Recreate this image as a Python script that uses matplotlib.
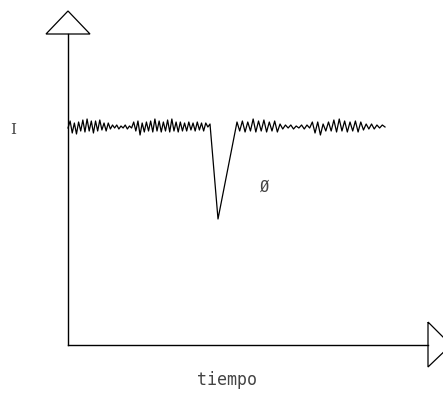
import numpy as np
import matplotlib.pyplot as plt
from matplotlib.patches import Polygon

# signal, in picture units (x to the right, level upward from baseline)
baseline = 128
noise_a = [0, 7, -5, 5, -6, 6, -3, 8, -4, 9, -3, 7, -5, 7, -3, 8, -2, 5, -3, 5,
           -1, 3, 0, 3, -1, 2, 0, 3, -1, 2, 0, 6, -3, 7, -7, 5, -4, 6, -3, 7,
           -4, 9, -3, 7, -4, 6, -3, 8, -4, 9, -3, 6, -4, 6, -3, 5, -3, 6, -2, 5,
           -3, 6, -2, 5, -3, 5, 1, 4]
noise_b = [6, -3, 7, -4, 6, -3, 9, -4, 7, -3, 8, -4, 6, -3, 7, -4, 4, -1, 3, 0,
           3, -1, 2, 0, 3, -1, 3, 0, 6, -5, 6, -7, 4, -3, 6, -3, 8, -4, 9, -3,
           7, -4, 6, -3, 7, -4, 6, -2, 4, -1, 4, -1, 3, 0, 3, 1]
x_a_start, x_a_end = 68, 210
x_b_start, x_b_end = 237, 385
dip_x, dip_y = 218, 219

# axes geometry
origin = (68, 345)
y_top = 34
x_right = 428


def main():
    fig = plt.figure(figsize=(4.43, 3.93), dpi=100)
    ax = fig.add_axes([0, 0, 1, 1])
    ax.set_xlim(0, 443)
    ax.set_ylim(393, 0)
    ax.axis('off')

    xa = np.linspace(x_a_start, x_a_end, len(noise_a))
    ya = baseline - np.array(noise_a)
    xb = np.linspace(x_b_start, x_b_end, len(noise_b))
    yb = baseline - np.array(noise_b)
    xs = np.concatenate([xa, [dip_x], xb])
    ys = np.concatenate([ya, [dip_y], yb])
    ax.plot(xs, ys, color='black', lw=0.9)

    # axes with open arrowheads
    ox, oy = origin
    ax.plot([ox, ox], [oy, y_top], color='black', lw=1.0)
    ax.plot([ox, x_right], [oy, oy], color='black', lw=1.0)
    ax.add_patch(Polygon([[ox - 22, y_top], [ox + 22, y_top], [ox, y_top - 23]],
                         closed=True, fill=False, ec='black', lw=0.9))
    ax.add_patch(Polygon([[x_right, oy - 23], [x_right, oy + 22], [x_right + 23, oy]],
                         closed=True, fill=False, ec='black', lw=0.9, clip_on=False))

    ax.text(13, 130, 'I', fontsize=11, ha='center', va='center', color='#444444',
            family='DejaVu Serif')
    ax.text(265, 187, 'Ø', fontsize=11, ha='center', va='center', color='#444444',
            family='DejaVu Sans Mono')
    ax.text(227, 380, 'tiempo', fontsize=12, ha='center', va='center', color='#444444',
            family='DejaVu Sans Mono')

    fig.savefig('out.png', dpi=100)


if __name__ == "__main__":
    main()
